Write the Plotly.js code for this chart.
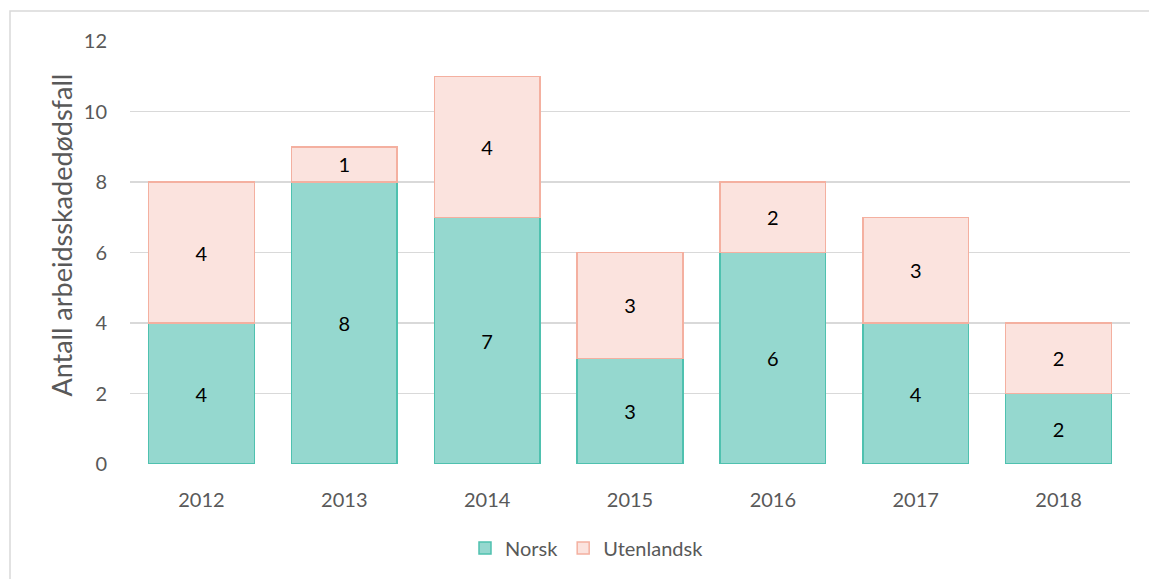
<!DOCTYPE html>
<html>
<head>
<meta charset="utf-8">
<script src="https://cdn.plot.ly/plotly-3.0.1.min.js"></script>
<style>html,body{margin:0;padding:0;background:#fff;}#chart{width:1149px;height:579px;}</style>
</head>
<body>
<div id="chart"></div>
<script>
const years = ["2012","2013","2014","2015","2016","2017","2018"];
const norsk = [4, 8, 7, 3, 6, 4, 2];
const utenlandsk = [4, 1, 4, 3, 2, 3, 2];
const yTicks = [0, 2, 4, 6, 8, 10, 12];
const yTitle = "Antall arbeidsskadedødsfall";

const FONT = "Lato, 'Open Sans', sans-serif";

const traces = [
  {
    type: "bar", name: "Norsk", x: years, y: norsk,
    text: norsk.map(String), textposition: "inside", insidetextanchor: "middle",
    textfont: {family: FONT, size: 20, color: "#000"},
    marker: {color: "#95D8CF", line: {color: "#4FC1AF", width: 1.5}},
    hoverinfo: "x+y"
  },
  {
    type: "bar", name: "Utenlandsk", x: years, y: utenlandsk,
    text: utenlandsk.map(String), textposition: "inside", insidetextanchor: "middle",
    textfont: {family: FONT, size: 20, color: "#000"},
    marker: {color: "#FBE3DE", line: {color: "#F4B0A0", width: 1.5}},
    hoverinfo: "x+y"
  }
];

const layout = {
  width: 1149, height: 579,
  margin: {l: 130, r: 19, t: 41, b: 114},
  paper_bgcolor: "#fff", plot_bgcolor: "#fff",
  barmode: "stack", bargap: 0.26,
  font: {family: FONT, color: "#595959"},
  xaxis: {
    type: "category", showgrid: false, zeroline: false, showline: false,
    tickfont: {family: FONT, size: 20, color: "#595959"},
    ticks: "outside", ticklen: 18, tickcolor: "rgba(0,0,0,0)"
  },
  yaxis: {
    range: [0, 12], tickvals: yTicks, ticktext: yTicks.map(String),
    showgrid: true, gridcolor: "#D9D9D9", gridwidth: 1.5, zeroline: false, showline: false,
    tickfont: {family: FONT, size: 20, color: "#595959"}, ticks: "outside", ticklen: 18, tickcolor: "rgba(0,0,0,0)"
  },
  annotations: [
    {text: yTitle, xref: "paper", yref: "paper", x: -0.068, y: 0.54,
     xanchor: "center", yanchor: "middle", textangle: -90, showarrow: false,
     font: {family: FONT, size: 27, color: "#595959"}}
  ],
  showlegend: true,
  legend: {
    orientation: "h", x: 0.457, xanchor: "center", y: -0.15, yanchor: "top",
    font: {family: FONT, size: 20, color: "#595959"}, traceorder: "normal",
    itemwidth: 30
  },
  shapes: [
    {type: "path", xref: "paper", yref: "paper",
     path: "M -0.12 -0.3 L -0.12 1.0708 L 1.03 1.0708",
     line: {color: "#D9D9D9", width: 1.5}}
  ]
};

Plotly.newPlot("chart", traces, layout, {displayModeBar: false, staticPlot: true});
</script>
</body>
</html>
